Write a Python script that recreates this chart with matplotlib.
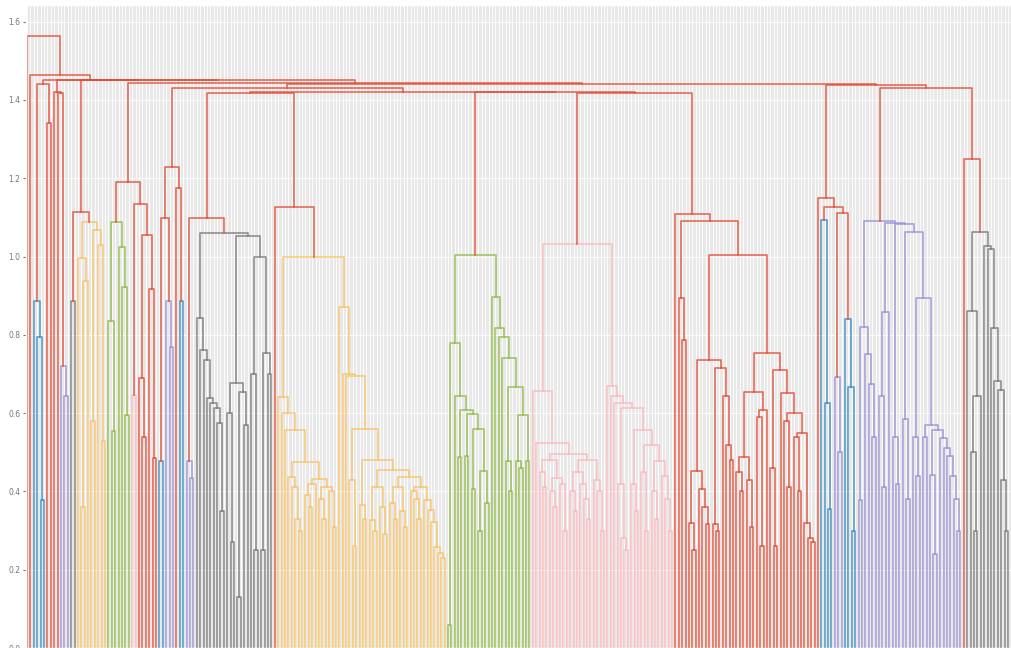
import matplotlib

matplotlib.use("Agg")
import matplotlib.pyplot as plt

plt.style.use("ggplot")

# ggplot palette used for the cluster colours
RED = "#E24A33"
BLUE = "#348ABD"
PURPLE = "#988ED5"
GREY = "#777777"
YELLOW = "#FBC15E"
GREEN = "#8EBA42"
PINK = "#FFB5B8"


def comb(heights, tail=0):
    """Staircase subtree: one leaf splits off at each height (top first)."""
    node = tail
    for h in reversed(heights):
        node = [h, 0, node]
    return node


# ---- clusters: [height, left, right], 0 = leaf ----
BLUE_1 = comb([0.886, 0.795, 0.378])
PURPLE_1 = comb([0.72, 0.644])
GREY_1 = [0.886, 0, 0]
YELLOW_1 = [1.088, [0.995, 0, [0.937, [0.36, 0, 0], 0]],
            [1.067, [0.58, 0, 0], [1.03, 0, [0.53, 0, 0]]]]
GREEN_1 = [1.088, comb([0.835, 0.555]), comb([1.025, 0.922, 0.595])]
PINK_1 = [0.645, 0, 0]
RED_1 = [1.055, comb([0.69, 0.54]), comb([0.918, 0.485])]
BLUE_2 = [0.477, 0, 0]
PURPLE_2 = comb([0.886, 0.77])
BLUE_3 = [0.886, 0, 0]
PURPLE_3 = comb([0.477, 0.433])

GREY_2 = [1.06,
          comb([0.842, 0.761, 0.736, 0.639, 0.626, 0.612, 0.574, 0.35]),
          [1.052,
           [0.677, [0.6, 0, [0.27, 0, 0]], [0.655, [0.13, 0, 0], [0.57, 0, 0]]],
           [0.998, [0.70, 0, [0.25, 0, 0]], [0.754, [0.25, 0, 0], [0.70, 0, 0]]]]]

YELLOW_2 = [1.0,
            comb([0.642, 0.60, 0.557],
                 [0.475, comb([0.437, 0.41, 0.33, 0.30]),
                  [0.431, [0.42, comb([0.39, 0.36]), 0],
                   [0.41, comb([0.38, 0.33]), comb([0.40, 0.31])]]]),
            comb([0.87, 0.70, 0.695],
                 [0.56, [0.43, 0, [0.26, 0, 0]],
                  [0.48, comb([0.365, 0.33]),
                   [0.455, [0.41, comb([0.327, 0.30]), comb([0.36, 0.29])],
                    [0.437, [0.41, comb([0.37, 0.33]), comb([0.35, 0.31])],
                     [0.41, comb([0.40, 0.38, 0.33]),
                      comb([0.378, 0.352, 0.322, 0.258, 0.243, 0.23])]]]]])]

GREEN_2 = [1.003,
           [0.78, [0.06, 0, 0],
            [0.644, 0,
             [0.608, [0.489, 0, 0],
              [0.598, [0.49, 0, 0],
               [0.559, [0.406, 0, 0],
                [0.452, [0.30, 0, 0], [0.37, 0, 0]]]]]]],
           comb([0.897, 0.817, 0.795, 0.741],
                [0.666, comb([0.477, 0.40]),
                 [0.595, comb([0.477, 0.46]), [0.477, 0, 0]]])]

PINK_2 = [1.032,
          [0.657, 0,
           [0.524, 0,
            [0.495,
             [0.48, comb([0.45, 0.41]),
              [0.434, comb([0.40, 0.36]), [0.42, 0, [0.30, 0, 0]]]],
             [0.48, [0.45, comb([0.40, 0.35]), comb([0.42, 0.38, 0.33])],
              [0.43, 0, comb([0.40, 0.30])]]]]],
          comb([0.669, 0.644, 0.626],
               [0.613, comb([0.42, 0.28, 0.25]),
                [0.557, comb([0.42, 0.35]),
                 [0.518, comb([0.45, 0.30]),
                  [0.477, comb([0.40, 0.33]), comb([0.44, 0.38, 0.30])]]]])]

RED_2 = [1.108, 0,
         [1.091, comb([0.893, 0.786]),
          [1.004,
           [0.736, [0.452, comb([0.319, 0.25]), comb([0.406, 0.36, 0.318])],
            [0.716, comb([0.318, 0.30]), [0.644, 0, [0.518, 0, [0.48, 0, 0]]]]],
           [0.754,
            [0.654, [0.487, comb([0.45, 0.40]), comb([0.43, 0.31])],
             [0.608, [0.59, 0, [0.26, 0, 0]], 0]],
            [0.71, [0.46, 0, [0.26, 0, 0]],
             [0.652, 0,
              [0.60, comb([0.58, 0.41]),
               [0.55, comb([0.54, 0.40]), comb([0.32, 0.28, 0.27])]]]]]]]]

BLUE_4 = comb([1.093, 0.626, 0.355])
PURPLE_5 = comb([0.693, 0.50])
BLUE_5 = comb([0.84, 0.667, 0.30])
PURPLE_4 = [1.09,
            [0.82, [0.378, 0, 0], [0.751, 0, [0.674, 0, [0.538, 0, 0]]]],
            [1.086,
             [0.858, [0.644, 0, [0.41, 0, 0]], 0],
             [1.084, comb([0.54, 0.42]),
              [1.063, [0.585, 0, [0.38, 0, 0]],
               [0.893, [0.54, 0, [0.44, 0, 0]],
                [0.57, [0.54, 0, 0],
                 [0.557, [0.443, 0, [0.24, 0, 0]],
                  comb([0.536, 0.51, 0.49, 0.44, 0.38, 0.30])]]]]]]]
GREY_3 = [1.063, [0.861, 0, [0.644, comb([0.50, 0.30]), 0]],
          comb([1.027, 1.02, 0.817, 0.682, 0.66, 0.43, 0.30])]


def c(color, tree):
    return {"color": color, "tree": tree}


# ---- links above the colour threshold ----
LEFT_BLUE = [1.44, c(BLUE, BLUE_1), [1.34, 0, 0]]
TRIO = [1.42, 0, [1.417, 0, c(PURPLE, PURPLE_1)]]
GREY_YELLOW = [1.114, c(GREY, GREY_1), c(YELLOW, YELLOW_1)]
GREEN_RED = [1.19, c(GREEN, GREEN_1), [1.135, c(PINK, PINK_1), c(RED, RED_1)]]
BLUE_PURPLE = [1.228, [1.098, c(BLUE, BLUE_2), c(PURPLE, PURPLE_2)],
               [1.174, 0, c(BLUE, BLUE_3)]]
PURPLE_GREY = [1.098, c(PURPLE, PURPLE_3), c(GREY, GREY_2)]
LEAF_YELLOW = [1.126, 0, c(YELLOW, YELLOW_2)]
PINK_RED = [1.417, c(PINK, PINK_2), RED_2]
MIDDLE = [1.43, BLUE_PURPLE,
          [1.421, [1.417, PURPLE_GREY, LEAF_YELLOW],
           [1.421, c(GREEN, GREEN_2), PINK_RED]]]
RIGHT = [1.438,
         [1.15, 0, [1.126, c(BLUE, BLUE_4), [1.11, c(PURPLE, PURPLE_5), c(BLUE, BLUE_5)]]],
         [1.431, c(PURPLE, PURPLE_4), [1.249, 0, c(GREY, GREY_3)]]]
TREE = [1.563, 0,
        [1.464, 0,
         [1.452, LEFT_BLUE,
          [1.451, TRIO,
           [1.45, GREY_YELLOW,
            [1.443, GREEN_RED, [1.44, MIDDLE, RIGHT]]]]]]]


def layout(node, color, segments, leaves):
    """Place leaves at 5, 15, 25, ... and return (x, height) of the node."""
    if isinstance(node, dict):
        return layout(node["tree"], node["color"], segments, leaves)
    if node == 0:
        x = 5 + 10 * len(leaves)
        leaves.append(x)
        return x, 0.0
    h, left, right = node
    xl, hl = layout(left, color, segments, leaves)
    xr, hr = layout(right, color, segments, leaves)
    segments.append(([xl, xl, xr, xr], [hl, h, h, hr], color))
    return (xl + xr) / 2, h


segments = []
leaves = []
layout(TREE, RED, segments, leaves)

W, H = 1011, 648
fig = plt.figure(figsize=(W / 100, H / 100), dpi=100)
ax_left = 26
ax = fig.add_axes([ax_left / W, 0, (W - ax_left) / W, 643 / H])

for xs, ys, col in segments:
    ax.plot(xs, ys, color=col, linewidth=1.2, alpha=0.8)

# leaves run from pixel 27 to pixel 1008
px_per_unit = (1008 - 27) / (leaves[-1] - leaves[0])
x0 = leaves[0] - (27 - ax_left) / px_per_unit
x1 = x0 + (W - ax_left) / px_per_unit
ax.set_xlim(x0, x1)
ax.set_ylim(0, 643 / 391.5)

ax.set_xticks(leaves)
ax.set_xticklabels([])
ax.tick_params(axis="x", length=0)
ax.set_yticks([0.0, 0.2, 0.4, 0.6, 0.8, 1.0, 1.2, 1.4, 1.6])
ax.tick_params(axis="y", labelsize=5.5, colors="#777777", length=2, pad=2)
ax.set_facecolor("#E8E8E8")
ax.grid(True, color="white", linewidth=0.6)
ax.set_axisbelow(True)

fig.savefig("out.png", dpi=100)
